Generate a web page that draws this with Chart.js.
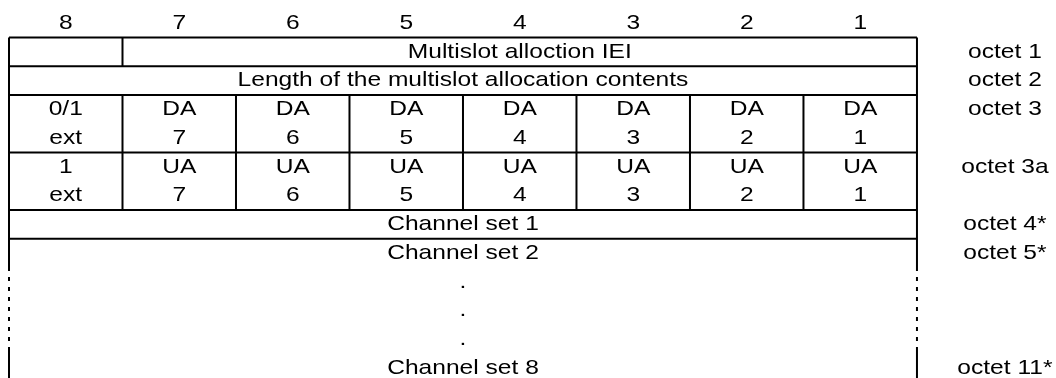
<!DOCTYPE html>
<html>
<head>
<meta charset="utf-8">
<script src="https://cdn.jsdelivr.net/npm/chart.js@4/dist/chart.umd.min.js"></script>
<style>
  html, body { margin: 0; padding: 0; background: #fff; }
  #wrap { width: 1056px; height: 378px; }
</style>
</head>
<body>
<div id="wrap"><canvas id="octetChart" width="1056" height="378"></canvas></div>
<script>
// bit numbers over the columns (left to right)
const bitLabels = ['8', '7', '6', '5', '4', '3', '2', '1'];

// octet 3 / 3a: two text lines per cell
const octet3Top = ['0/1', 'DA', 'DA', 'DA', 'DA', 'DA', 'DA', 'DA'];
const octet3Bottom = ['ext', '7', '6', '5', '4', '3', '2', '1'];
const octet3aTop = ['1', 'UA', 'UA', 'UA', 'UA', 'UA', 'UA', 'UA'];
const octet3aBottom = ['ext', '7', '6', '5', '4', '3', '2', '1'];

// text that spans several columns: [text, first column, last column + 1, line]
const spanTexts = [
    ['Multislot alloction IEI', 1, 8, 1],
    ['Length of the multislot allocation contents', 0, 8, 2],
    ['Channel set 1', 0, 8, 7],
    ['Channel set 2', 0, 8, 8],
    ['.', 0, 8, 9],
    ['.', 0, 8, 10],
    ['.', 0, 8, 11],
    ['Channel set 8', 0, 8, 12]
];

// octet labels on the right and the text line they sit on
const octetLabels = ['octet 1', 'octet 2', 'octet 3', 'octet 3a', 'octet 4*', 'octet 5*', 'octet 11*'];
const octetLines = [1, 2, 3, 5, 7, 8, 12];

// table rules (in column / line units)
const rowRules = [0.5, 1.5, 2.5, 4.5, 6.5, 7.5];
const iei = [1];                        // column split in octet 1
const bitSplits = [1, 2, 3, 4, 5, 6, 7]; // column splits in octet 3 and 3a

function seg(x1, y1, x2, y2, dash) {
    return {
        data: [{ x: x1, y: y1 }, { x: x2, y: y2 }],
        showLine: true,
        borderColor: '#000',
        borderWidth: 2,
        borderDash: dash || [],
        pointRadius: 0,
        fill: false
    };
}

const datasets = [];
rowRules.forEach(y => datasets.push(seg(0, y, 8, y)));
iei.forEach(x => datasets.push(seg(x, 0.5, x, 1.5)));
bitSplits.forEach(x => datasets.push(seg(x, 2.5, x, 6.5)));
[0, 8].forEach(x => {
    datasets.push(seg(x, 0.5, x, 8.48));
    datasets.push(seg(x, 8.48, x, 11.3, [4, 6]));
    datasets.push(seg(x, 11.3, x, 12.6));
});

const FONT = '21px "Liberation Sans", Arial, sans-serif';
const STRETCH = 1.17;

const textPlugin = {
    id: 'cellText',
    afterDatasetsDraw(chart) {
        const { ctx, scales } = chart;
        const xs = scales.x, ys = scales.y;
        const put = (text, x, line) => {
            ctx.save();
            ctx.translate(xs.getPixelForValue(x), ys.getPixelForValue(line));
            ctx.scale(STRETCH, 1);
            ctx.fillText(text, 0, 0);
            ctx.restore();
        };
        ctx.save();
        ctx.font = FONT;
        ctx.fillStyle = '#000';
        ctx.textAlign = 'center';
        ctx.textBaseline = 'middle';
        bitLabels.forEach((t, i) => put(t, i + 0.5, 0));
        octet3Top.forEach((t, i) => put(t, i + 0.5, 3));
        octet3Bottom.forEach((t, i) => put(t, i + 0.5, 4));
        octet3aTop.forEach((t, i) => put(t, i + 0.5, 5));
        octet3aBottom.forEach((t, i) => put(t, i + 0.5, 6));
        spanTexts.forEach(s => put(s[0], (s[1] + s[2]) / 2, s[3]));
        octetLabels.forEach((t, i) => put(t, 8.775, octetLines[i]));
        ctx.restore();
    }
};

new Chart(document.getElementById('octetChart').getContext('2d'), {
    type: 'scatter',
    data: { datasets: datasets },
    options: {
        responsive: false,
        animation: false,
        layout: { padding: 0 },
        scales: {
            x: { type: 'linear', min: -0.0793, max: 9.225, display: false },
            y: { type: 'linear', reverse: true, min: -0.807, max: 12.345, display: false }
        },
        plugins: {
            legend: { display: false },
            tooltip: { enabled: false }
        }
    },
    plugins: [textPlugin]
});
</script>
</body>
</html>
